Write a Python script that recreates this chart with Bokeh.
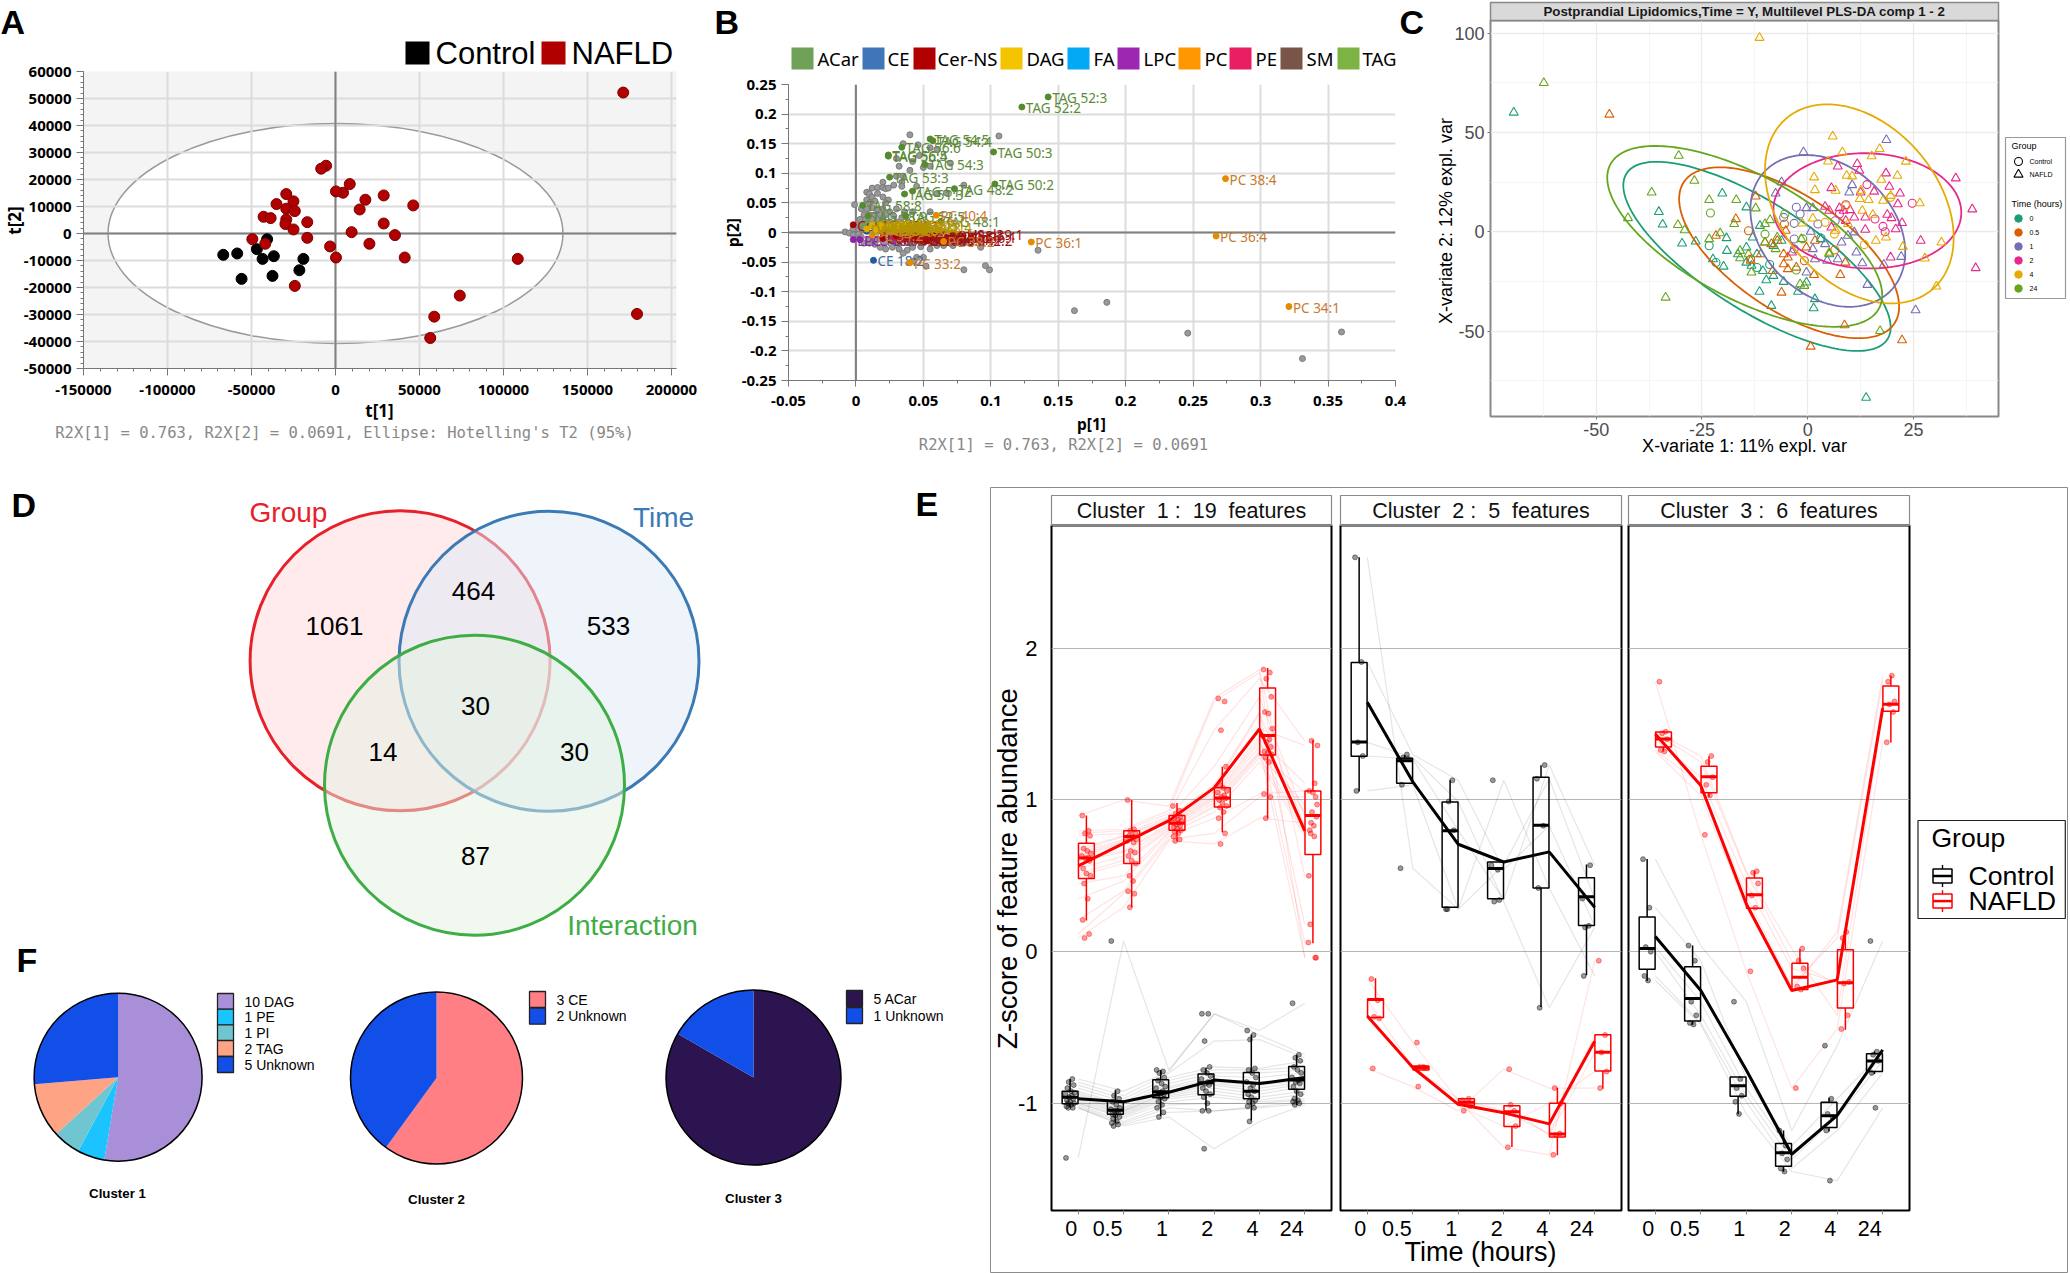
import numpy as np
from bokeh.plotting import figure
from bokeh.embed import file_html
from bokeh.resources import INLINE
from bokeh.core.properties import value
from bokeh.models import (Range1d, Span, SingleIntervalTicker, FixedTicker, CustomJSTickFormatter)

# ---------- Panel A ----------
A_CONTROL_T1 = [-40700,-46800,-58500,-66800,-43400,-36700,-19100,-21500,-37500,-55900]
A_CONTROL_T2 = [-2100,-5800,-7400,-7900,-9400,-8400,-9400,-13600,-15700,-16800]
A_NAFLD_T1 = [171300,179500,108500,74000,58800,56400,41200,35400,20200,9600,28700,46300,28700,17800,14400,8500,4500,300,-5600,-8500,-25000,-29300,-35100,-29300,-24200,-42800,-38600,-29300,-29800,-16800,-25000,-16800,-49500,-41800,-3200,300,-24200]
A_NAFLD_T2 = [52200,-29800,-9400,-23000,-30800,-38700,-8900,-600,-3800,500,3700,10400,14100,12500,8900,18300,15100,15600,25100,24000,11900,14600,10900,9200,8300,6200,5700,5200,3500,4200,1500,-1600,-2100,-3800,-4800,-8900,-19400]
A_ELLIPSE_WIDTH = 270800
A_ELLIPSE_HEIGHT = 81400

# ---------- Panel B ----------
B_GREY = [(.04,.165),(.106,.163),(.035,.15),(.046,.148),(.055,.143),(.06,.14),(.047,.13),(.03,.125),(.032,.112),(.042,.12),(.05,.11),(.055,.112),(.07,.117),(.04,.105),(.035,.095),(.03,.095),(.034,.085),(.02,.085),(.028,.08),(.034,.078),(.045,.078),(.08,.08),(.067,.067),(.06,.066),(.012,.075),(.016,.076),(.02,.076),(.022,.074),(.024,.075),(.008,.068),(.01,.065),(.012,.06),(.016,.066),(.02,.06),(.024,.055),(.022,.05),(.008,.055),(.01,.05),(.014,.053),(-.001,.047),(.004,.04),(.008,.04),(.012,.042),(.016,.04),(.02,.04),(.025,.035),(.03,.04),(.036,.035),(.042,.035),(.055,.035),(.006,.03),(.01,.03),(.014,.03),(.018,.03),(.022,.03),(.028,.028),(.034,.025),(.003,.022),(.007,.022),(.012,.022),(.016,.02),(.02,.02),(.025,.018),(.03,.018),(.001,.012),(.005,.013),(.009,.012),(.013,.012),(.018,.012),(-.002,.006),(.002,.005),(.006,.005),(-.008,.001),(-.005,-.001),(-.002,-.004),(.002,-.003),(.003,-.012),(.006,-.018),(.01,-.018),(.014,-.02),(.018,-.025),(.022,-.028),(.027,-.025),(.032,-.028),(.038,-.03),(.042,-.025),(.048,-.024),(.055,-.028),(.06,-.022),(.065,-.022),(.072,-.022),(.08,-.018),(.078,-.015),(.035,-.035),(.045,-.042),(.05,-.042),(.043,-.048),(.052,-.057),(.08,-.063),(.096,-.056),(.099,-.063),(.0925,-.025),(.135,-.03),(.162,-.132),(.186,-.118),(.246,-.17),(.331,-.213),(.36,-.168),(.004,-.008),(.01,-.012),(.016,-.012),(.022,-.016),(.03,-.018),(.04,-.018),(.05,-.016),(.06,-.014),(.07,-.012)]
B_LEGEND = ["ACar","CE","Cer-NS","DAG","FA","LPC","PC","PE","SM","TAG"]
B_LEGEND_COL = ["#6fa158","#3e76b8","#b00000","#f5c400","#03a9f4","#9c27b0","#ff9800","#e91e63","#795548","#7cb342"]
B_TAG = [("TAG 52:3",.1425,.229),("TAG 52:2",.123,.212),("TAG 54:5",.055,.158),("TAG 54:4",.057,.155),("TAG 56:6",.034,.144),("TAG 56:5",.024,.131),("TAG 56:4",.024,.129),("TAG 50:3",.102,.136),("TAG 54:3",.051,.115),("TAG 53:3",.025,.0935),("TAG 50:2",.103,.082),("TAG 48:2",.073,.074),("TAG 51:2",.042,.07),("TAG 51:3",.036,.065),("TAG 58:8",.005,.046),("TAG 48:1",.063,.019),("TAG 52:5",.037,.0275),("TAG 58:9",.009,.028)]
B_PC = [("PC 38:4",.274,.091),("PC 36:4",.267,-.006),("PC 36:1",.13,-.016),("PC 34:1",.321,-.125),("PC 33:2",.04,-.051),("PC 40:4",.0595,.029),("PC 38:2",.065,-.015),("PC 36:2",.028,.002),("PC 34:2",.012,-.004),("PC 36:3",.018,.004)]
B_CE = [("CE 18:2",.013,-.047),("CE 18:1",.008,.002),("CE 16:1",.018,.0035)]
B_DAG = [("DAG 34:1",.012,.013),("DAG 34:2",.018,.014),("DAG 36:2",.025,.011),("DAG 36:3",.03,.013),("DAG 36:1",.02,.009),("DAG 32:1",.035,.012),("DAG 38:4",.04,.01),("DAG 32:0",.008,.006),("DAG 34:0",.015,.005),("DAG 36:4",.03,.006)]
B_CER = [("Cer-NS d42:1",.03,-.006),("Cer-NS d40:1",.038,-.008),("Cer-NS d41:1",.044,-.011),("Cer-NS d18:1",.02,-.01),("Cer-NS d34:1",-.002,.013),("Cer-NS d42:2",.052,-.013),("Cer-NS d38:1",.046,-.005),("Cer-NS d36:1",.055,-.007),("Cer-NS d39:1",.06,-.002)]
B_PE = [("PE 36:2",.02,-.002),("PE 38:4",.028,-.007),("PE 34:1",.035,-.01),("PE 36:1",.042,-.004)]
B_SM = [("SM d42:1",.034,-.012),("SM d34:1",.05,-.012),("SM d40:1",.026,-.012),("SM d41:1",.045,-.007)]
B_LPC = [("LPC 16:0",-.002,-.012),("LPC 18:0",.003,-.012)]
B_ACAR = [("ACar 2:0",.006,.012),("ACar 3:0",.008,.016)]

# ---------- Panel C ----------
C_TIMES = ["0","0.5","1","2","4","24"]
C_COLORS = ["#1B9E77","#D95F02","#7570B3","#E7298A","#E6AB02","#66A61E"]
C_TRI = {
"0":[(-69.5,60),(13.8,-83.5),(-35.2,10),(-34.3,3.7),(-29.7,-5.9),(-26.5,-4.9),(-20.2,19.3),(-14.5,12.3),(-19.2,-3.2),(-19.1,-9.6),(-19.9,-17.5),(-14.5,-7.9),(-13.3,-17.1),(-10.6,-19.7),(-9.8,-24.4),(-8.1,-22.2),(-11.4,-30.2),(-8.6,-37.3),(-5.7,-25.2),(-2.3,-30.2),(-.3,-25.5),(1.7,-33.9),(1.4,-38.5),(-11.3,3),(-22.4,-13.8),(3.1,-3.7),(5.1,-11.3),(-13,-2.9),(-6.2,-4.5),(-8.1,-7.1),(-12,-11.3),(-16.5,-11.3),(-14.5,-15.5)],
"0.5":[(-46.9,59),(-12.3,17.8),(-17,6.4),(-21.7,-2),(.7,-57.8),(22.3,-54.6),(8.7,-47),(-6.2,-30.6),(1.5,-21.7),(7.7,-21.7),(8.9,-15.5),(-11.1,-11.3),(-13.5,-14.6),(-8.3,-19.7),(-5.7,-16.3),(-4.7,-12.9),(-2.7,-18),(-4.7,-18.8),(-7.2,-4.5),(-5.2,.5),(-10.1,-5.4),(-.3,-7.9),(1.7,-4.5),(-5.7,-11.3),(-8.6,-6.2)],
"1":[(-1,40),(18.6,46.2),(25.5,-39.5),(-6.2,24.9),(-7.6,19.3),(10.5,23.5),(9.8,19.8),(-.3,11.9),(1.2,11.9),(.7,0),(14.1,-26.7),(12.9,-15.8),(11.5,-10.4),(8,-5.4),(9.5,-2),(11,-.3),(4.1,-6.2),(1.2,-8.7),(-.3,-20.5),(1.7,-13.8),(22.1,-12.6),(18,-16.6),(7.1,-13.8),(4.6,-14.6)],
"2":[(35,26.9),(38.9,11.3),(39.7,-18.3),(26.7,-4.5),(19.6,-12.9),(13.6,1),(11.7,34.1),(12.2,30.7),(7.1,32.9),(5.6,22),(18.5,29.4),(19.3,22.7),(15.7,20.2),(12.5,19.8),(21.8,19.3),(21.3,13.9),(18.8,8.6),(19.8,6.9),(22.3,4.4),(20.8,1.3),(4.1,12.6),(5.1,10.6),(7.5,11.9),(8.5,10.6),(10,10.9),(11,7.2),(13.6,7.2),(9,5.5),(-3.7,-10.4),(5.6,2.2)],
"4":[(-11.4,97.6),(5.9,48),(8.2,40),(17,41.7),(15.1,38),(4.8,35.4),(23.2,35.3),(1.5,27.4),(9.2,28.2),(10.5,27.9),(21.2,28.2),(17.4,26.2),(1.7,21),(6.6,20.7),(12.6,20.7),(12.3,16.5),(14.4,16),(17.8,15.6),(19.6,18.1),(26.5,14.4),(12.9,10.6),(1.2,6.7),(-1.3,4.2),(15.4,8.6),(31.6,-5.4),(22.5,-7.6),(18.5,-2.9),(16.1,-4.5),(27.7,-13.4),(30.4,-27.5),(9.5,3.9),(5.1,-10.4),(6.6,.5)],
"24":[(-62.4,74.9),(-33.6,-33.1),(-30.5,38.3),(-26.8,25.7),(-36.9,19.8),(-42.5,6.9),(-30.7,3.4),(-29.1,.8),(-23.3,16),(-16.9,16),(-23.3,-3.7),(-20.7,-.7),(-17.4,3.9),(-12.3,11.8),(-10.1,3.9),(-8.9,5.9),(-16,-9.6),(-16,-13.3),(-13.3,-20.5),(-14,-11.3),(-10.1,-5.4),(-7.6,-8.7),(-7.2,-2.9),(-1.8,-26.4),(-.8,-27.2),(17.1,-49.9),(5.1,-10.9),(-1.5,-3.7)],
}
C_CIR = {
"0":[(-23.3,-7.1),(-21.7,-15.5),(-12,-18),(3.1,-3.2),(-3.2,-8.7),(-9,-16.5)],
"0.5":[(-14,.5),(-5.5,3.9),(-.8,-14.6),(6.4,-9.2),(-13.5,-13.8)],
"1":[(-2.7,12.3),(-1.8,8.9),(-5.7,7.2),(-3.2,4.2),(2.4,3.9),(-3.2,-3.7),(6.5,5.5)],
"2":[(14,23.7),(24.7,14.3),(15.9,6.4),(17.8,2.7),(18.3,0),(7.5,8.9),(9,13.6)],
"4":[(4.1,4.7),(13.4,-6.5),(6.3,-1.2),(19.6,17.3),(9,13.1)],
"24":[(-23,9.4),(-10.1,-1.2),(-1.2,-3.6),(-2.7,-19.3),(-5.4,8.9)],
}
# centre x, centre y, half-extent x, half-extent y, correlation
C_ELL = {"0":(-12,-12.4,31.6,47.6,-.75),"0.5":(-4.4,-10.6,26,43,-.63),"1":(4.75,.4,18.3,38.2,-.28),"2":(14.1,10.5,22.2,29,-.03),"4":(12.2,14,22.3,50.1,-.34),"24":(-14.9,-2.35,32.5,45.5,-.65)}

# ---------- Panel D ----------
D_SETS = ["Group","Time","Interaction"]
D_COUNTS = ["1061","464","533","30","14","30","87"]

# ---------- Panel F ----------
F1_LABELS = ["10 DAG","1 PE","1 PI","2 TAG","5 Unknown"]; F1_VALUES = [10,1,1,2,5]
F1_COLORS = ["#a88fd8","#1cc4ff","#70c6d0","#ffa385","#124ee8"]
F2_LABELS = ["3 CE","2 Unknown"]; F2_VALUES = [3,2]; F2_COLORS = ["#ff7f85","#124ee8"]
F3_LABELS = ["5 ACar","1 Unknown"]; F3_VALUES = [5,1]; F3_COLORS = ["#2c1450","#124ee8"]

# ---------- Panel E ----------
E_TIMES = ["0","0.5","1","2","4","24"]
E_JIT = [-.09,.05,-.03,.08,-.06,.02,.1,-.1,.04,-.02,.07,-.07,.0,.09,-.05,.03,-.08,.06,-.04]
# per time point: values of every feature
E1_RED = [[.897,.797,.78,.764,.68,.664,.648,.631,.62,.615,.598,.548,.515,.50,.449,.349,.209,.116,.09],
 [1.0,.807,.797,.78,.764,.76,.74,.73,.72,.664,.654,.63,.6,.581,.5,.465,.399,.382,.292],
 [.96,.93,.91,.89,.88,.87,.86,.85,.85,.84,.83,.82,.81,.80,.79,.78,.76,.74,.73],
 [1.67,1.65,1.46,1.22,1.1,1.08,1.06,1.05,1.03,1.02,1.01,1.0,.98,.96,.95,.92,.88,.78,.71],
 [1.86,1.84,1.8,1.68,1.58,1.57,1.47,1.42,1.4,1.38,1.35,1.32,1.31,1.3,1.28,1.25,1.04,1.02,.88],
 [.5,-.04,1.39,.89,.18,.83,1.36,.06,1.11,.92,-.04,.8,1.05,.97,.78,.76,1.06,1.02,.85]]
E1_BLK = [[-1.36,-.84,-.86,-.88,-.9,-.92,-.93,-.94,-.95,-.96,-.97,-.98,-.99,-1.0,-1.0,-1.01,-1.02,-1.03,-1.03],
 [.07,-.92,-.95,-.97,-.99,-1.01,-1.03,-1.04,-1.05,-1.05,-1.06,-1.07,-1.08,-1.09,-1.1,-1.12,-1.13,-1.14,-1.15],
 [-.78,-.79,-.8,-.83,-.85,-.87,-.89,-.9,-.92,-.93,-.94,-.95,-.96,-.97,-.99,-1.01,-1.03,-1.06,-1.09],
 [-.41,-.41,-.59,-.76,-.78,-.8,-.82,-.84,-.86,-.87,-.88,-.9,-.92,-.94,-.96,-1.0,-1.05,-1.05,-1.3],
 [-.52,-.55,-.58,-.77,-.78,-.8,-.83,-.86,-.88,-.9,-.92,-.94,-.96,-.98,-.99,-1.0,-1.02,-1.03,-1.12],
 [-.34,-.68,-.7,-.72,-.76,-.78,-.8,-.83,-.85,-.86,-.87,-.89,-.92,-.94,-.97,-.98,-.99,-1.0,-1.01]]
E2_RED = [[-.18,-.32,-.43,-.44,-.77],[-.6,-.76,-.76,-.765,-.89],[-.98,-.97,-1.0,-1.02,-1.05],[-1.29,-1.05,-1.01,-1.15,-.775],[-1.34,-1.2,-1.21,-1.0,-.9],[-.06,-.55,-.665,-.79,-.9]]
E2_BLK = [[2.6,1.91,1.38,1.29,1.06],[.55,1.3,1.28,1.27,1.1],[.28,1.13,.99,.8,.28],[.57,.54,.33,.34,1.13],[1.14,.83,-.37,1.23,.42],[.35,.17,.16,.57,-.16]]
E3_RED = [[1.78,1.45,1.44,1.4,1.33,1.32],[.77,1.29,1.25,1.15,1.1,1.03],[-.13,.53,.52,.45,.37,.29],[-.9,.02,-.06,-.11,-.23,-.25],[-.51,-.42,-.21,-.2,.09,.13],[1.38,1.58,1.63,1.65,1.78,1.82]]
E3_BLK = [[.61,.29,.03,.0,-.16,-.19],[.04,-.06,-.33,-.42,-.47,-.48],[-.33,-.84,-.9,-.95,-.99,-1.07],[-1.18,-1.28,-1.33,-1.37,-1.43,-1.45],[-.62,-.97,-1.07,-1.09,-1.18,-1.51],[.07,-.66,-.68,-.72,-.8,-1.03]]
# lo, q1, median, q3, hi
E1_RED_BOX = [(.206,.482,.618,.714,.897),(.292,.581,.76,.797,1.0),(.728,.80,.847,.897,.98),(.787,.953,1.013,1.08,1.219),(.88,1.296,1.425,1.738,1.87),(.056,.641,.897,1.06,1.395)]
E1_BLK_BOX = [(-1.03,-1.003,-.96,-.92,-.84),(-1.13,-1.073,-1.046,-.987,-.914),(-1.086,-.963,-.924,-.844,-.78),(-1.046,-.944,-.864,-.807,-.764),(-1.113,-.97,-.92,-.797,-.548),(-1.013,-.907,-.847,-.757,-.68)]
E2_RED_BOX = [(-.435,-.435,-.316,-.312,-.176),(-.78,-.78,-.764,-.754,-.754),(-1.013,-1.013,-.993,-.97,-.97),(-1.289,-1.153,-1.056,-1.017,-1.017),(-1.342,-1.223,-1.203,-1.0,-.897),(-.904,-.787,-.664,-.548,-.548)]
E2_BLK_BOX = [(1.056,1.289,1.382,1.907,2.6),(1.11,1.11,1.259,1.276,1.296),(.292,.292,.797,.987,1.13),(.349,.349,.548,.591,.591),(-.365,.419,.834,1.15,1.229),(-.156,.173,.362,.488,.575)]
E3_RED_BOX = [(1.319,1.349,1.402,1.449,1.455),(1.02,1.047,1.153,1.223,1.286),(.286,.286,.375,.485,.532),(-.249,-.249,-.169,-.076,.017),(-.515,-.372,-.206,.013,.133),(1.379,1.585,1.631,1.751,1.821)]
E3_BLK_BOX = [(-.193,-.116,.02,.229,.611),(-.482,-.458,-.309,-.1,.04),(-1.073,-.953,-.884,-.827,-.827),(-1.452,-1.415,-1.326,-1.266,-1.179),(-1.186,-1.159,-1.083,-.993,-.963),(-.807,-.791,-.721,-.674,-.658)]
E1_RED_MEAN = [.565,.714,.864,1.08,1.468,.797]; E1_BLK_MEAN = [-.97,-.99,-.927,-.847,-.87,-.83]
E2_RED_MEAN = [-.425,-.764,-1.007,-1.063,-1.136,-.591]; E2_BLK_MEAN = [1.645,1.12,.708,.591,.658,.292]
E3_RED_MEAN = [1.435,1.096,.316,-.256,-.186,1.605]; E3_BLK_MEAN = [.1,-.256,-.78,-1.336,-1.08,-.648]

SANS = "Liberation Sans"; NOTO = "Noto Sans"; MONO = "DejaVu Sans Mono"
ROOTS = []

def plain_fmt():
    # tick text with an ASCII hyphen, as in the reference
    return CustomJSTickFormatter(code="return String(Number(tick.toFixed(3)))")

def frame_fig(L, T, R, B, X0, Y0, X1, Y1, xr, yr):
    p = figure(width=X1-X0, height=Y1-Y0, x_range=Range1d(*xr), y_range=Range1d(*yr),
               min_border_left=L-X0, min_border_right=X1-R, min_border_top=T-Y0, min_border_bottom=Y1-B,
               output_backend="svg", toolbar_location=None,
               styles={"position": "absolute", "left": f"{X0}px", "top": f"{Y0}px"})
    p.outline_line_color = None
    ROOTS.append(p)
    return p

def style_simca(p, dx, nx, dy, ny):
    p.xaxis.ticker = SingleIntervalTicker(interval=dx, num_minor_ticks=nx)
    p.yaxis.ticker = SingleIntervalTicker(interval=dy, num_minor_ticks=ny)
    for ax in (p.xaxis[0], p.yaxis[0]):
        ax.formatter = plain_fmt()
        ax.axis_line_color = "#777777"; ax.major_tick_line_color = "#777777"; ax.minor_tick_line_color = "#777777"
        ax.major_tick_in = 0; ax.major_tick_out = 7; ax.minor_tick_in = 0; ax.minor_tick_out = 3
        ax.major_label_text_font = NOTO; ax.major_label_text_font_style = "bold"
        ax.major_label_text_font_size = "15px"; ax.major_label_text_color = "black"
        ax.major_label_standoff = 5
    p.xaxis[0].major_label_standoff = 9
    for g in (p.xgrid[0], p.ygrid[0]):
        g.grid_line_color = "#dcdcdc"; g.grid_line_width = 2; g.level = "glyph"
    p.add_layout(Span(location=0, dimension="width", line_color="#808080", line_width=2, level="glyph"))
    p.add_layout(Span(location=0, dimension="height", line_color="#808080", line_width=2, level="glyph"))

# ---- A
pa = frame_fig(83, 71, 676, 368, 0, 0, 700, 470, (-150000, 203000), (-50000, 60000))
pa.background_fill_color = "#f4f4f4"
style_simca(pa, 50000, 5, 10000, 5)
pa.ellipse(x=[0], y=[0], width=[A_ELLIPSE_WIDTH], height=[A_ELLIPSE_HEIGHT], fill_color="white", line_color="#9a9a9a", line_width=1.5, level="underlay")
pa.scatter(A_CONTROL_T1, A_CONTROL_T2, size=11, color="black", level="overlay")
pa.scatter(A_NAFLD_T1, A_NAFLD_T2, size=11, fill_color="#b00000", line_color="#7a0000", level="overlay")

# ---- B
pb = frame_fig(788, 84, 1395, 380, 700, 0, 1425, 470, (-.05, .4), (-.25, .25))
style_simca(pb, .05, 2, .05, 2)
pb.xaxis[0].major_tick_out = 6
gx, gy = zip(*B_GREY)
pb.scatter(gx, gy, size=6, fill_color="#999999", line_color="#7a7a7a", level="overlay")

def bseries(rows, dot, txt):
    n, x, y = zip(*rows)
    pb.scatter(x, y, size=6, fill_color=dot, line_color=dot, level="overlay")
    pb.text(x, y, text=list(n), text_color=txt, text_font=value(NOTO), text_font_size="13.5px", text_baseline="middle",
            x_offset=4, y_offset=1, level="overlay")

bseries(B_TAG, "#558b2f", "#5d8a38")
bseries(B_ACAR, "#6c9e58", "#5f9348")
bseries(B_CE, "#1f5b9e", "#3d6d9e")
bseries(B_LPC, "#8e24aa", "#8e24aa")
bseries(B_SM, "#795548", "#7a4a3a")
bseries(B_PE, "#c2185b", "#b0305a")
bseries(B_CER, "#a80000", "#a01010")
bseries(B_PC, "#e68a00", "#c77a2e")
bseries(B_DAG, "#d9ae00", "#b39500")

# ---- C
pc = frame_fig(1490, 20, 1998, 416, 1425, 0, 2000, 470, (-75, 45.1), (-93, 106.3))
pc.xaxis.ticker = FixedTicker(ticks=[-50,-25,0,25], minor_ticks=[-62.5,-37.5,-12.5,12.5,37.5])
pc.yaxis.ticker = FixedTicker(ticks=[-50,0,50,100], minor_ticks=[-75,-25,25,75])
for ax in (pc.xaxis[0], pc.yaxis[0]):
    ax.formatter = plain_fmt()
    ax.axis_line_color = None; ax.major_tick_line_color = "#777777"; ax.minor_tick_line_color = None
    ax.major_tick_in = 0; ax.major_tick_out = 3
    ax.major_label_text_font = SANS; ax.major_label_text_font_size = "18px"; ax.major_label_text_color = "#4d4d4d"
    ax.major_label_standoff = 2
for g in (pc.xgrid[0], pc.ygrid[0]):
    g.grid_line_color = "#ebebeb"; g.grid_line_width = 1.3
    g.minor_grid_line_color = "#f3f3f3"; g.minor_grid_line_width = 0.8
pc.outline_line_color = "#888888"; pc.outline_line_width = 2
theta = np.linspace(0, 2*np.pi, 181)
for t, col in zip(C_TIMES, C_COLORS):
    cx, cy, rx, ry, rho = C_ELL[t]
    ex = cx + rx*np.cos(theta)
    ey = cy + ry*(rho*np.cos(theta) + np.sqrt(1-rho**2)*np.sin(theta))
    pc.line(ex, ey, line_color=col, line_width=1.8)
    x, y = zip(*C_TRI[t])
    pc.scatter(x, y, marker="triangle", size=9, fill_alpha=0, line_color=col, line_width=1.1)
    x, y = zip(*C_CIR[t])
    pc.scatter(x, y, marker="circle", size=8, fill_alpha=0, line_color=col, line_width=1.1)

# ---- E facets
def draw_group(p, by_time, box, mean, col, dodge, dot_alpha, line_alpha):
    ticks = list(range(1, 7))
    feats = list(zip(*by_time))
    p.multi_line([ticks]*len(feats), [list(f) for f in feats], line_color=col, line_alpha=line_alpha, line_width=1.2)
    xd, yd = [], []
    for t, vals in zip(ticks, by_time):
        for i, v in enumerate(vals):
            xd.append(t + dodge + E_JIT[i % len(E_JIT)])
            yd.append(v)
    p.scatter(xd, yd, size=5, color=col, alpha=dot_alpha)
    lo, q1, med, q3, hi = map(np.array, zip(*box))
    tx = np.array(ticks) + dodge
    p.segment(tx, q3, tx, hi, line_color=col, line_width=1.5)
    p.segment(tx, q1, tx, lo, line_color=col, line_width=1.5)
    p.quad(left=tx-.175, right=tx+.175, top=q3, bottom=q1, fill_alpha=0, line_color=col, line_width=1.5)
    p.segment(tx-.175, med, tx+.175, med, line_color=col, line_width=3)
    p.line(ticks, mean, line_color=col, line_width=3)

E_XR = (.41, 6.59)
def facet(L, R, X0, X1, red, blk, rbox, bbox, rmean, bmean):
    p = frame_fig(L, 525, R, 1210, X0, 500, X1, 1272, E_XR, (-1.707, 2.81))
    p.outline_line_color = "black"; p.outline_line_width = 2
    p.xgrid.visible = False
    p.ygrid.ticker = FixedTicker(ticks=[-1,0,1,2]); p.ygrid.grid_line_color = "#b5b5b5"; p.ygrid.grid_line_width = 1.2
    p.xaxis.ticker = FixedTicker(ticks=[1,2,3,4,5,6], minor_ticks=[])
    p.xaxis.major_label_overrides = {i: "" for i in range(1, 7)}
    p.xaxis.axis_line_color = None; p.xaxis.major_tick_line_color = "#888888"
    p.xaxis.major_tick_in = 0; p.xaxis.major_tick_out = 4
    if L == 1051:
        p.yaxis.ticker = FixedTicker(ticks=[-1,0,1,2], minor_ticks=[])
        p.yaxis.formatter = plain_fmt()
        p.yaxis.axis_line_color = None; p.yaxis.major_tick_line_color = None
        p.yaxis.major_label_text_font = SANS; p.yaxis.major_label_text_font_size = "22px"
        p.yaxis.major_label_text_color = "black"; p.yaxis.major_label_standoff = 8
    else:
        p.yaxis.visible = False
    draw_group(p, blk, bbox, bmean, "#000000", -.18, .4, .1)
    draw_group(p, red, rbox, rmean, "#ff0000", .18, .4, .11)
    return p

facet(1051, 1331, 995, 1334, E1_RED, E1_BLK, E1_RED_BOX, E1_BLK_BOX, E1_RED_MEAN, E1_BLK_MEAN)
facet(1340, 1621, 1336, 1624, E2_RED, E2_BLK, E2_RED_BOX, E2_BLK_BOX, E2_RED_MEAN, E2_BLK_MEAN)
facet(1628, 1909, 1625, 1912, E3_RED, E3_BLK, E3_RED_BOX, E3_BLK_BOX, E3_RED_MEAN, E3_BLK_MEAN)

# ---- page-pixel overlay: panel D, F, letters, legends, strips, axis titles
ov = frame_fig(0, 0, 2070, 1273, 0, 0, 2070, 1273, (0, 2070), (1273, 0))
ov.axis.visible = False; ov.grid.visible = False
ov.background_fill_color = None; ov.border_fill_color = None
ov.styles = {"position": "absolute", "left": "0px", "top": "0px", "pointer-events": "none"}

def lab(X, Y, text, size, color="black", font=SANS, style="normal", align="center", angle=0):
    ov.text([X], [Y], text=[text], text_font=value(font), text_font_size=f"{size}px", text_color=color,
            text_font_style=style, text_align=align, text_baseline="middle", angle=angle)

def box(X0, Y0, X1, Y1, fill, line=None, lw=1):
    ov.quad(left=[X0], right=[X1], top=[Y0], bottom=[Y1], fill_color=fill, line_color=line, line_width=lw)

# letters
for x, y, t in [(0,21,"A"),(714,21,"B"),(1399,21,"C"),(11,504,"D"),(915,503,"E"),(16,959.5,"F")]:
    lab(x, y, t, 34, style="bold", align="left")

# A texts
box(405, 41, 429, 64, "black"); lab(435, 53, "Control", 31, align="left")
box(541, 41, 565, 64, "#b00000"); lab(571, 53, "NAFLD", 31, align="left")
lab(379, 410, "t[1]", 17, font=NOTO, style="bold")
lab(14, 220, "t[2]", 17, font=NOTO, style="bold", angle=np.pi/2)
lab(344, 432, "R2X[1] = 0.763, R2X[2] = 0.0691, Ellipse: Hotelling's T2 (95%)", 15.5, "#888888", MONO)

# B texts
leg_sq = [791,862,913,1000,1067,1117,1178,1229,1280,1337]
leg_tx = [817,887,937,1026,1093,1143,1204,1255,1306,1362]
for s, t, n, c in zip(leg_sq, leg_tx, B_LEGEND, B_LEGEND_COL):
    box(s, 47, s+22, 69, c)
    lab(t, 58, n, 18.5, font=NOTO, align="left")
lab(1091, 423, "p[1]", 15.5, font=NOTO, style="bold")
lab(732, 232, "p[2]", 15.5, font=NOTO, style="bold", angle=np.pi/2)
lab(1063, 444, "R2X[1] = 0.763, R2X[2] = 0.0691", 15.5, "#888888", MONO)

# C texts
box(1490, 2, 1998, 20, "#d9d9d9", "#888888", 1.5)
lab(1744, 11, "Postprandial Lipidomics,Time = Y, Multilevel PLS-DA comp 1 - 2", 13.3, "#1a1a1a", style="bold")
lab(1744, 445, "X-variate 1: 11% expl. var", 18)
lab(1445, 218, "X-variate 2:  12% expl. var", 18, angle=np.pi/2)
box(2005, 137, 2065, 298, "white", "#999999", 1.2)
lab(2011, 145, "Group", 9, align="left"); lab(2011, 203, "Time (hours)", 9, align="left")
lab(2029, 161, "Control", 7, align="left"); lab(2029, 174, "NAFLD", 7, align="left")
ov.scatter([2018], [161], marker="circle", size=8, fill_alpha=0, line_color="black", line_width=1.1)
ov.scatter([2018], [174], marker="triangle", size=9, fill_alpha=0, line_color="black", line_width=1.1)
for t, col, yy in zip(C_TIMES, C_COLORS, [218,232,246,260,274,288]):
    ov.scatter([2018], [yy], marker="circle", size=7.5, color=col)
    lab(2029, yy, t, 7, align="left")

# D
for (cx, cy, fill, line) in [(399.6,660.3,"#ffd8da","#e8202a"),(548.5,660.8,"#dde9f5","#3b7ab5"),(474,784.7,"#e2f1e0","#3fad46")]:
    ov.circle(x=[cx], y=[cy], radius=150, fill_color=fill, fill_alpha=.5, line_color=line, line_width=3)
for (x, y, txt, c) in zip([288,663,632], [512,517,925], D_SETS, ["#e8202a","#3b7ab5","#3fad46"]):
    lab(x, y, txt, 28, c)
for (x, y, txt) in zip([334,473,608,475,382.5,574,475], [625.7,590.7,625.7,705,751.7,751.7,855.7], D_COUNTS):
    lab(x, y, txt, 26)

# F
def pie(cx, cy, r, vals, cols):
    ang = np.concatenate([[0], np.cumsum(vals)]) / np.sum(vals) * 2*np.pi
    xs, ys = [], []
    for a0, a1 in zip(ang[:-1], ang[1:]):
        t = np.linspace(a0, a1, 80)
        xs.append(np.concatenate([[cx], cx + r*np.sin(t)]))
        ys.append(np.concatenate([[cy], cy - r*np.cos(t)]))
    ov.patches(xs, ys, fill_color=cols, line_color=None)
    ov.circle(x=[cx], y=[cy], radius=r, fill_alpha=0, line_color="black", line_width=1.5)

def pleg(x, ys, labels, cols):
    for y, l, c in zip(ys, labels, cols):
        box(x, y-8, x+16, y+8, c, "#222222", 1.3)
        lab(x+27, y, l, 14, align="left")

pie(117.6, 1076.7, 84, F1_VALUES, F1_COLORS)
pie(436, 1077.5, 86, F2_VALUES, F2_COLORS)
pie(753, 1077, 87.5, F3_VALUES, F3_COLORS)
pleg(217, [1001,1016.7,1032.3,1048,1064], F1_LABELS, F1_COLORS)
pleg(529, [999,1015.7], F2_LABELS, F2_COLORS)
pleg(846, [998,1015], F3_LABELS, F3_COLORS)
lab(117, 1193, "Cluster 1", 13.3, style="bold")
lab(436, 1199, "Cluster 2", 13.3, style="bold")
lab(753, 1198, "Cluster 3", 13.3, style="bold")

# E texts
box(990, 487, 2067, 1272, None, "#8c8c8c", 1)
NB = "\u00a0\u00a0"
for L, R, title in [(1051,1331,f"Cluster{NB}1 :{NB}19{NB}features"),(1340,1621,f"Cluster{NB}2 :{NB}5{NB}features"),(1628,1909,f"Cluster{NB}3 :{NB}6{NB}features")]:
    box(L, 495, R, 525, None, "#8a8a8a", 1.2)
    lab((L+R)/2, 510, title, 21.5, "#111111")
    for i, t in enumerate(E_TIMES):
        tick_px = L + (i + 1 - E_XR[0]) / (E_XR[1] - E_XR[0]) * (R - L)
        lab(tick_px - 1, 1228, t, 21.5, align="right")
lab(1007, 868, "Z-score of feature abundance", 27.5, angle=np.pi/2)
lab(1480, 1251, "Time (hours)", 27)
box(1917.5, 820, 2064.8, 918, "white", "#222222", 1.2)
lab(1931, 837, "Group", 26.5, align="left")
for yy, name, col in [(875.5, "Control", "#000000"), (900.6, "NAFLD", "#ff0000")]:
    ov.segment([1942], [yy-11], [1942], [yy+11], line_color=col, line_width=1.4)
    box(1932.5, yy-7, 1951.5, yy+7, "white", col, 1.5)
    ov.segment([1932.5], [yy], [1951.5], [yy], line_color=col, line_width=2.5)
    lab(1968, yy, name, 26.7, align="left")

open("out.html", "w").write(file_html(ROOTS, INLINE))
